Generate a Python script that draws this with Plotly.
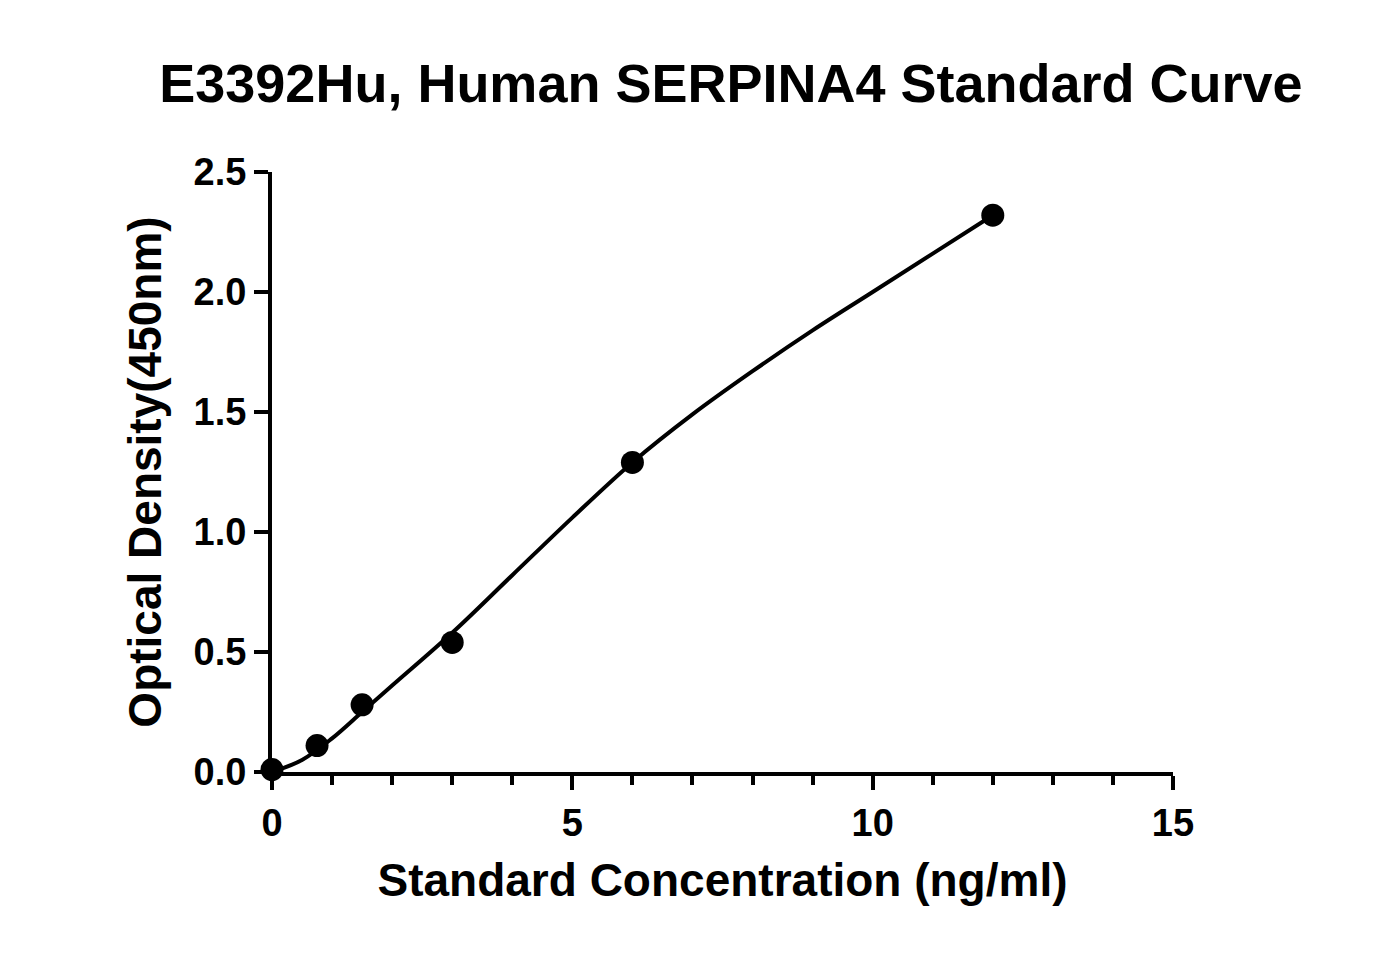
import plotly.graph_objects as go

# standard points
conc = [0, 0.75, 1.5, 3, 6, 12]
od = [0.01, 0.11, 0.28, 0.54, 1.29, 2.32]

# fitted curve
curve_x = [0, 0.5, 1, 1.5, 2, 3, 4, 5, 6, 7, 8, 9, 10, 11, 12]
curve_y = [0.0, 0.05, 0.14, 0.25, 0.36, 0.58, 0.82, 1.06, 1.29, 1.49, 1.67, 1.84, 2.00, 2.16, 2.32]

font = "Liberation Sans, Arial, sans-serif"

fig = go.Figure()
fig.add_trace(go.Scatter(x=curve_x, y=curve_y, mode="lines", line=dict(color="black", width=4, shape="spline"),
                         cliponaxis=False, showlegend=False))
fig.add_trace(go.Scatter(x=conc, y=od, mode="markers", marker=dict(color="black", size=23),
                         cliponaxis=False, showlegend=False))

axis_common = dict(showline=True, linecolor="black", linewidth=4, ticks="outside", ticklen=14, tickwidth=4,
                   tickcolor="black", showgrid=False, zeroline=False,
                   tickfont=dict(family=font, size=38, color="black", weight="bold"))

fig.update_layout(
    width=1377, height=975,
    paper_bgcolor="white", plot_bgcolor="white",
    margin=dict(l=264, r=212, t=164, b=211),
    title=dict(text="E3392Hu, Human SERPINA4 Standard Curve", x=0.525, xanchor="center",
               y=0.923, yanchor="middle",
               font=dict(family=font, size=54, color="black", weight="bold")),
    xaxis=dict(range=[0, 15], tickvals=[0, 5, 10, 15],
               minor=dict(ticks="outside", ticklen=9, tickwidth=4, tickcolor="black", dtick=1),
               title=dict(text="Standard Concentration (ng/ml)", standoff=22,
                          font=dict(family=font, size=46, color="black", weight="bold")),
               **axis_common),
    yaxis=dict(range=[0, 2.5], tickvals=[0, 0.5, 1, 1.5, 2, 2.5], tickformat=".1f",
               title=dict(text="Optical Density(450nm)", standoff=18,
                          font=dict(family=font, size=46, color="black", weight="bold")),
               **axis_common),
)

fig.write_html("out.html")
